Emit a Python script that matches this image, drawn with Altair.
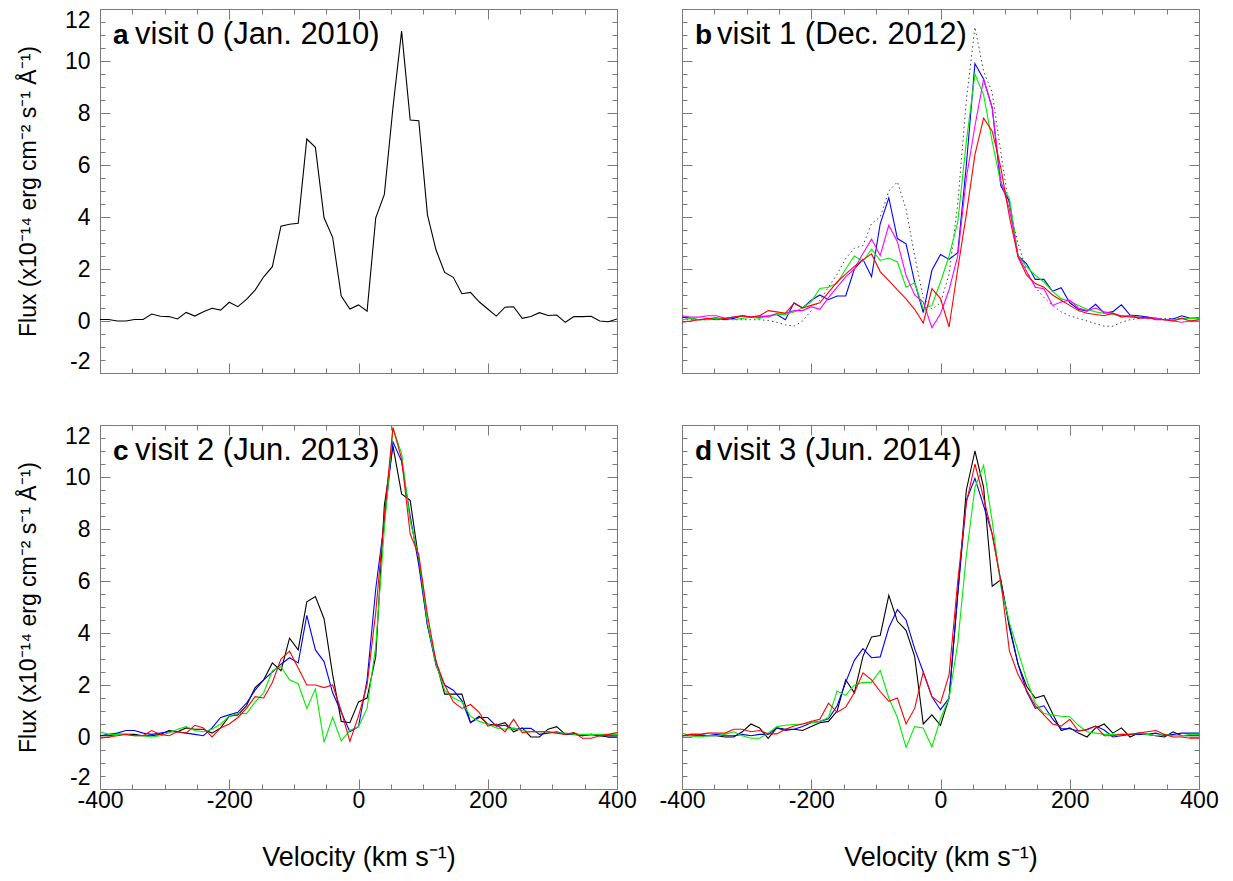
import altair as alt
import pandas as pd

# ---------------- data ----------------
VEL = [-400, -386.7, -373.3, -360, -346.7, -333.3, -320, -306.7, -293.3, -280,
       -266.7, -253.3, -240, -226.7, -213.3, -200, -186.7, -173.3, -160, -146.7,
       -133.3, -120, -106.7, -93.3, -80, -66.7, -53.3, -40, -26.7, -13.3,
       0, 13.3, 26.7, 40, 53.3, 66.7, 80, 93.3, 106.7, 120,
       133.3, 146.7, 160, 173.3, 186.7, 200, 213.3, 226.7, 240, 253.3,
       266.7, 280, 293.3, 306.7, 320, 333.3, 346.7, 360, 373.3, 386.7, 400]

A_BLACK = [0.06, 0.06, 0.0, 0.0, 0.06, 0.06, 0.27, 0.18, 0.17, 0.08,
           0.33, 0.19, 0.36, 0.49, 0.42, 0.72, 0.55, 0.83, 1.19, 1.7,
           2.09, 3.65, 3.72, 3.76, 7.0, 6.68, 3.97, 3.22, 0.96, 0.46,
           0.62, 0.38, 3.97, 4.87, 8.2, 11.15, 7.73, 7.7, 4.08, 2.73,
           1.87, 1.68, 1.05, 1.1, 0.74, 0.46, 0.19, 0.53, 0.55, 0.1,
           0.17, 0.32, 0.21, 0.23, -0.05, 0.17, 0.17, 0.18, 0.0, -0.03, 0.08]

B_BLUE = [0.15, 0.1, 0.05, 0.08, 0.12, 0.05, 0.1, 0.2, 0.15, 0.15,
          0.2, 0.25, 0.05, 0.7, 0.5, 0.8, 1.0, 0.82, 0.96, 0.96,
          2.0, 2.37, 1.7, 3.74, 4.74, 3.17, 2.97, 1.5, 0.32, 1.95,
          2.56, 2.37, 2.63, 6.0, 9.9, 9.3, 8.2, 5.2, 4.6, 2.5,
          2.2, 1.6, 1.6, 1.14, 1.28, 0.7, 0.45, 0.38, 0.64, 0.3,
          0.36, 0.62, 0.23, 0.2, 0.15, 0.1, 0.05, 0.08, 0.2, 0.1, 0.12]
B_GREEN = [0.05, 0.1, 0.05, 0.05, 0.1, 0.1, 0.05, 0.1, 0.15, 0.1,
           0.2, 0.25, 0.25, 0.35, 0.5, 0.75, 1.25, 1.3, 1.45, 2.0,
           2.5, 2.3, 2.76, 2.33, 2.42, 2.27, 1.3, 1.47, 0.47, 0.6,
           1.5, 2.5, 3.8, 6.9, 9.5, 8.7, 6.9, 5.3, 4.7, 2.5,
           2.08, 1.76, 1.5, 1.14, 0.86, 0.76, 0.6, 0.45, 0.35, 0.3,
           0.25, 0.2, 0.2, 0.15, 0.1, 0.1, 0.05, 0.05, 0.1, 0.1, 0.1]
B_MAGENTA = [0.2, 0.15, 0.15, 0.2, 0.2, 0.1, 0.15, 0.2, 0.15, 0.2,
             0.15, 0.3, 0.3, 0.4, 0.4, 0.55, 0.45, 0.9, 1.3, 1.7,
             2.0, 2.6, 3.15, 2.52, 3.68, 3.05, 1.75, 1.0, 0.73, -0.26,
             0.28, 1.2, 2.5, 5.5, 7.5, 9.3, 8.2, 5.4, 4.3, 2.5,
             1.9, 1.3, 1.24, 0.6, 0.73, 0.8, 0.5, 0.4, 0.5, 0.35,
             0.3, 0.2, 0.15, 0.15, 0.1, 0.1, 0.05, 0.0, -0.05, 0.0, 0.05]
B_RED = [-0.05, 0.0, 0.05, 0.1, 0.05, 0.1, 0.15, 0.2, 0.15, 0.2,
         0.4, 0.35, 0.3, 0.68, 0.5, 0.6, 0.7, 1.1, 1.5, 1.8,
         2.1, 2.35, 2.58, 1.9, 1.55, 1.2, 0.85, 0.45, -0.08, 1.24,
         0.86, -0.23, 2.0, 4.1, 6.4, 7.8, 7.3, 5.9, 4.0, 2.46,
         1.76, 1.44, 1.3, 1.0, 0.8, 0.6, 0.4, 0.3, 0.25, 0.2,
         0.3, 0.15, 0.2, 0.1, 0.15, 0.05, 0.05, 0.0, 0.1, 0.0, 0.05]
B_MODEL = [0.05, 0.05, 0.05, 0.05, 0.05, 0.05, 0.05, 0.05, 0.05, 0.05,
           0.02, -0.05, -0.15, -0.2, 0.0, 0.4, 0.8, 1.3, 1.8, 2.4,
           2.8, 2.9, 3.75, 4.0, 5.0, 5.35, 4.3, 2.5, 0.9, 0.45,
           0.7, 1.8, 4.5, 8.5, 11.3, 9.6, 8.8, 6.5, 4.3, 3.0,
           1.9, 1.3, 0.9, 0.6, 0.35, 0.2, 0.1, 0.0, -0.1, -0.2,
           -0.2, -0.05, 0.05, 0.1, 0.1, 0.1, 0.1, 0.1, 0.1, 0.1, 0.1]

C_BLACK = [0.05, 0.05, 0.1, 0.1, 0.1, 0.05, 0.05, 0.1, 0.25, 0.2,
           0.35, 0.3, 0.3, 0.15, 0.35, 0.8, 0.85, 1.2, 1.9, 2.2,
           2.85, 2.55, 3.8, 3.35, 5.2, 5.4, 4.55, 2.4, 0.6, 0.55,
           1.35, 1.5, 3.1, 8.9, 11.2, 9.35, 9.1, 6.8, 4.3, 2.9,
           1.65, 1.65, 1.65, 0.55, 0.8, 0.5, 0.45, 0.55, 0.2, 0.35,
           0.0, 0.0, 0.3, 0.4, 0.1, 0.15, 0.05, 0.1, 0.05, 0.0, 0.0]
C_BLUE = [0.05, 0.1, 0.15, 0.25, 0.25, 0.15, 0.1, 0.15, 0.2, 0.2,
          0.15, 0.1, 0.05, 0.35, 0.75, 0.85, 0.95, 1.3, 1.8, 2.2,
          2.5, 2.8, 3.05, 2.85, 4.68, 3.35, 2.9, 1.7, 0.95, 0.2,
          0.4, 2.2, 5.7, 8.3, 11.35, 10.6, 8.5, 6.6, 4.3, 2.75,
          2.0, 1.8, 1.4, 0.55, 0.75, 0.75, 0.42, 0.45, 0.3, 0.33,
          0.33, 0.1, 0.15, 0.2, 0.1, 0.1, 0.05, 0.1, 0.05, 0.05, 0.05]
C_GREEN = [0.2, 0.1, 0.1, 0.1, 0.05, 0.05, 0.0, 0.05, 0.15, 0.3,
           0.4, 0.25, 0.2, 0.3, 0.5, 0.8, 0.9, 0.9, 1.35, 1.7,
           2.55, 2.7, 2.2, 2.05, 1.1, 1.85, -0.2, 0.75, -0.15, 0.25,
           0.4, 1.1, 3.5, 8.0, 11.9, 10.9, 8.3, 6.9, 4.4, 2.8,
           1.8, 1.5, 1.35, 0.8, 0.6, 0.5, 0.35, 0.3, 0.35, 0.25,
           0.2, 0.2, 0.2, 0.15, 0.15, 0.1, 0.1, 0.1, 0.1, 0.1, 0.1]
C_RED = [-0.05, 0.0, 0.05, 0.1, 0.05, 0.05, 0.25, 0.1, 0.05, 0.2,
         0.15, 0.45, 0.35, 0.0, 0.35, 0.5, 0.75, 1.1, 1.55, 1.5,
         2.1, 3.0, 3.3, 2.65, 2.0, 2.0, 1.9, 2.0, 1.0, -0.17,
         0.8, 2.0, 4.8, 8.5, 11.9, 10.7, 7.8, 7.0, 4.7, 2.9,
         2.0, 1.35, 1.1, 1.25, 0.95, 0.42, 0.5, 0.2, 0.68, 0.17,
         0.2, 0.2, 0.2, 0.15, 0.1, 0.17, -0.05, -0.05, 0.05, 0.1, 0.17]

D_BLACK = [0.05, 0.05, 0.05, 0.05, 0.05, 0.0, 0.0, 0.2, 0.5, 0.35,
           -0.05, 0.35, 0.3, 0.3, 0.25, 0.4, 0.55, 0.6, 1.0, 2.2,
           1.7, 3.1, 3.85, 3.9, 5.45, 4.45, 4.1, 3.1, 0.5, 0.85,
           0.45, 1.5, 5.5, 9.5, 11.0, 9.6, 5.8, 6.05, 4.2, 2.8,
           1.95, 1.5, 1.6, 0.9, 0.25, 0.35, 0.15, 0.0, 0.35, 0.5,
           0.15, 0.35, 0.0, 0.15, 0.1, 0.05, 0.0, 0.2, 0.05, 0.05, 0.05]
D_BLUE = [0.05, 0.1, 0.1, 0.05, 0.1, 0.05, 0.05, 0.1, 0.05, 0.1,
          0.1, 0.35, 0.25, 0.3, 0.4, 0.55, 0.6, 0.7, 1.2, 2.1,
          2.95, 3.4, 3.05, 3.08, 4.2, 4.9, 4.5, 3.4, 2.5, 1.55,
          1.05, 1.5, 5.5, 9.1, 9.95, 8.9, 7.8, 6.0, 4.3, 2.8,
          1.75, 1.1, 1.2, 0.7, 0.32, 0.32, 0.23, 0.3, 0.42, 0.27,
          0.0, 0.05, 0.1, 0.1, 0.1, 0.15, 0.05, 0.1, 0.15, 0.15, 0.15]
D_GREEN = [0.15, 0.05, 0.0, 0.05, 0.05, 0.1, 0.2, 0.05, -0.05, -0.05,
           0.15, 0.4, 0.45, 0.48, 0.5, 0.55, 0.6, 0.75, 1.77, 1.6,
           2.0, 2.1, 2.1, 2.56, 1.5, 0.75, -0.4, 0.4, 0.35, -0.38,
           0.7, 1.5, 3.6, 7.0, 9.6, 10.45, 8.3, 5.8, 4.4, 3.3,
           2.2, 1.3, 0.9, 0.85, 0.8, 0.78, 0.45, 0.2, 0.15, 0.1,
           0.1, 0.1, 0.1, 0.15, 0.1, 0.05, 0.1, 0.05, 0.05, 0.1, 0.1]
D_RED = [0.05, 0.1, 0.1, 0.15, 0.15, 0.15, 0.3, 0.3, 0.2, 0.25,
         0.12, 0.12, 0.3, 0.42, 0.5, 0.6, 0.68, 1.3, 0.95, 1.15,
         1.7, 2.47, 2.2, 1.75, 1.37, 1.5, 0.5, 1.1, 2.5, 1.55,
         1.3, 2.4, 6.0, 9.0, 10.5, 9.2, 7.8, 6.0, 3.3, 2.4,
         1.8, 1.2, 0.85, 0.5, 0.42, 0.68, 0.23, 0.27, 0.42, 0.05,
         0.05, 0.1, 0.1, 0.15, 0.2, 0.25, 0.1, 0.0, 0.0, -0.05, -0.05]

X_TICKS = [-400, -350, -300, -250, -200, -150, -100, -50, 0,
           50, 100, 150, 200, 250, 300, 350, 400]
Y_TICKS = [-2, -1.5, -1, -0.5, 0, 0.5, 1, 1.5, 2, 2.5, 3, 3.5, 4, 4.5, 5, 5.5,
           6, 6.5, 7, 7.5, 8, 8.5, 9, 9.5, 10, 10.5, 11, 11.5, 12]

SERIES_NAMES = ["black", "blue", "green", "magenta", "red"]
SERIES_COLORS = ["#000000", "#0000ff", "#00ee00", "#ff00ff", "#ff0000"]

PANELS = [
    ("a", "visit 0 (Jan. 2010)", {"black": A_BLACK}, None),
    ("b", "visit 1 (Dec. 2012)", {"blue": B_BLUE, "green": B_GREEN,
                                  "magenta": B_MAGENTA, "red": B_RED}, B_MODEL),
    ("c", "visit 2 (Jun. 2013)", {"black": C_BLACK, "blue": C_BLUE,
                                  "green": C_GREEN, "red": C_RED}, None),
    ("d", "visit 3 (Jun. 2014)", {"black": D_BLACK, "blue": D_BLUE,
                                  "green": D_GREEN, "red": D_RED}, None),
]

# ---------------- styling ----------------
W, H = 517, 364
FONT = "Liberation Sans"
TICK_COLOR = "#7a7a7a"
X_TITLE = "Velocity (km s\u207b\u00b9)"
Y_TITLE = "Flux (x10\u207b\u00b9\u2074 erg cm\u207b\u00b2 s\u207b\u00b9 \u00c5\u207b\u00b9)"

X_TICKSIZE = {"condition": {"test": "datum.value % 200 === 0", "value": -10}, "value": -5}
Y_TICKSIZE = {"condition": {"test": "datum.value % 2 === 0", "value": -10}, "value": -5}

XS = alt.Scale(domain=[-400, 400], nice=False, zero=False)
YS = alt.Scale(domain=[-2, 12], nice=False, zero=False)


def x_axis(orient, show_labels, show_title):
    kw = dict(orient=orient, values=X_TICKS, tickSize=X_TICKSIZE, tickColor=TICK_COLOR,
              tickWidth=1, domain=False, grid=False, labels=show_labels,
              labelFlush=False, labelOverlap=False, labelFont=FONT, labelFontSize=23,
              labelColor="#000000", labelPadding=10,
              labelExpr="datum.value % 200 === 0 ? '' + datum.value : ''",
              titleFont=FONT, titleFontSize=27, titleFontWeight="normal",
              titleColor="#000000", titlePadding=27)
    kw["title"] = X_TITLE if show_title else None
    return alt.Axis(**kw)


def y_axis(orient, show_labels, show_title):
    kw = dict(orient=orient, values=Y_TICKS, tickSize=Y_TICKSIZE, tickColor=TICK_COLOR,
              tickWidth=1, domain=False, grid=False, labels=show_labels,
              labelFlush=True, labelOverlap=False, labelFont=FONT, labelFontSize=23,
              labelColor="#000000", labelPadding=20,
              labelExpr="datum.value % 2 === 0 ? '' + datum.value : ''",
              titleFont=FONT, titleFontSize=23, titleFontWeight="normal",
              titleColor="#000000", titlePadding=24)
    kw["title"] = Y_TITLE if show_title else None
    return alt.Axis(**kw)


def make_panel(letter, label, series, model, left, bottom):
    rows = []
    for name, vals in series.items():
        for i, (v, f) in enumerate(zip(VEL, vals)):
            rows.append({"v": v, "flux": f, "series": name, "i": i})
    df = pd.DataFrame(rows)

    lines = alt.Chart(df).mark_line(strokeWidth=1.1, clip=True).encode(
        x=alt.X("v:Q", scale=XS, axis=x_axis("bottom", bottom, bottom)),
        y=alt.Y("flux:Q", scale=YS, axis=y_axis("left", left, left)),
        color=alt.Color("series:N", scale=alt.Scale(domain=SERIES_NAMES, range=SERIES_COLORS),
                        legend=None),
        order="i:Q",
    )
    mirror = alt.Chart(df).mark_line(opacity=0).encode(
        x=alt.X("v:Q", scale=XS, axis=x_axis("top", False, False)),
        y=alt.Y("flux:Q", scale=YS, axis=y_axis("right", False, False)),
        order="i:Q",
    )
    layers = [mirror]
    if model is not None:
        mdf = pd.DataFrame({"v": VEL, "flux": model})
        dotted = alt.Chart(mdf).mark_line(strokeWidth=1, strokeDash=[1.5, 3],
                                          color="#444444", clip=True).encode(
            x=alt.X("v:Q", scale=XS, axis=None),
            y=alt.Y("flux:Q", scale=YS, axis=None),
        )
        layers.append(dotted)
    layers.append(lines)

    one = pd.DataFrame({"k": [0]})
    t_letter = alt.Chart(one).mark_text(text=letter, font=FONT, fontSize=28, fontWeight="bold",
                                        align="left", baseline="alphabetic", color="#000000").encode(
        x=alt.value(13), y=alt.value(35))
    t_label = alt.Chart(one).mark_text(text=label, font=FONT, fontSize=31, fontWeight="normal",
                                       align="left", baseline="alphabetic", color="#000000").encode(
        x=alt.value(35), y=alt.value(35))
    layers += [t_letter, t_label]

    return alt.layer(*layers).resolve_axis(x="independent", y="independent").properties(
        width=W, height=H)


pa = make_panel(*PANELS[0][:4], left=True, bottom=False)
pb = make_panel(*PANELS[1][:4], left=False, bottom=False)
pc = make_panel(*PANELS[2][:4], left=True, bottom=True)
pd_ = make_panel(*PANELS[3][:4], left=False, bottom=True)

top = alt.hconcat(pa, pb, spacing=65, bounds="flush")
bottom = alt.hconcat(pc, pd_, spacing=65, bounds="flush")
chart = alt.vconcat(top, bottom, spacing=50).properties(
    padding={"left": 8, "top": 0, "right": 5, "bottom": 5},
    background="#ffffff",
).configure_view(stroke="#7a7a7a", strokeWidth=1)

chart.save("out.html", embed_options={"renderer": "svg", "actions": False})
